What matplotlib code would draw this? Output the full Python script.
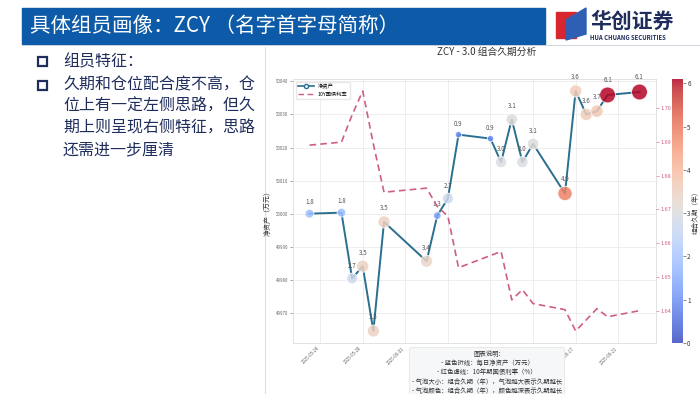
import matplotlib
matplotlib.use("Agg")
import matplotlib.dates as mdates
import matplotlib.pyplot as plt
import numpy as np
from matplotlib.lines import Line2D
from matplotlib.patches import Polygon, Rectangle

plt.rcParams["font.family"] = ["Noto Sans CJK SC", "DejaVu Sans"]
plt.rcParams["axes.unicode_minus"] = False

# data
dates = [
    "2025-05-23", "2025-05-26", "2025-05-27", "2025-05-28", "2025-05-29",
    "2025-05-30", "2025-06-03", "2025-06-04", "2025-06-05", "2025-06-06",
    "2025-06-09", "2025-06-10", "2025-06-11", "2025-06-12", "2025-06-13",
    "2025-06-16", "2025-06-17", "2025-06-18", "2025-06-19", "2025-06-20",
    "2025-06-23",
]
net_asset = [
    50000.0, 50000.3, 49980.4, 49984.1, 49964.5, 49997.5, 49985.6, 49999.4,
    50004.6, 50023.9, 50022.7, 50015.6, 50028.5, 50015.6, 50021.1, 50006.1,
    50037.1, 50030.0, 50031.0, 50035.9, 50036.8,
]
yield_10y = [
    1.6890, 1.6899, 1.6979, 1.7050, 1.6893, 1.6751, 1.6763, 1.6709, 1.6680,
    1.6528, 1.6564, 1.6576, 1.6433, 1.6463, 1.6422, 1.6404, 1.6341, 1.6374,
    1.6407, 1.6383, 1.6401,
]
duration = [
    1.8, 1.8, 2.7, 3.5, 3.5, 3.5, 3.4, 1.3, 2.7, 0.9, 0.9, 3.0, 3.1, 3.0,
    3.1, 4.9, 3.6, 3.6, 3.7, 6.1, 6.1,
]
bullet_1 = "组员特征："
bullet_2 = "久期和仓位配合度不高，仓\n位上有一定左侧思路，但久\n期上则呈现右侧特征，思路\n还需进一步厘清"
notes = (
    "图表说明:\n- 蓝色折线：每日净资产（万元）\n- 红色虚线：10年期国债利率（%）\n"
    "- 气泡大小：组合久期（年），气泡越大表示久期越长\n"
    "- 气泡颜色：组合久期（年），颜色越深表示久期越长"
)

W, H = 700, 394
fig = plt.figure(figsize=(7, 3.94), dpi=100)
navy = "#1f2d5c"

# slide background / header
bg = fig.add_axes([0, 0, 1, 1])
bg.set_xlim(0, W)
bg.set_ylim(H, 0)
bg.axis("off")
bg.add_patch(Rectangle((22, 8), 523, 36, color="#0d5aa8"))
bg.plot([22, W], [44.5, 44.5], color="#c8cdd8", lw=0.6)
bg.text(30, 26, "具体组员画像：ZCY （名字首字母简称）", color="white",
        fontsize=14.8, va="center", ha="left")
# logo
bg.add_patch(Polygon([[556, 12], [576, 12], [576, 38], [556, 38]], color="#d7262e"))
bg.add_patch(Polygon([[566, 20], [586, 8], [586, 34], [566, 40]], color="#2f5fb5"))
bg.text(590, 21, "华创证券", color=navy, fontsize=15, fontweight="bold", va="center")
bg.text(590, 37, "HUA CHUANG SECURITIES", color=navy, fontsize=4.3,
        fontweight="bold", va="center")
bg.plot([265, 265], [47, H], color="#dddddd", lw=0.8)

# left bullets
for yy in [62, 86]:
    bg.add_patch(Rectangle((38, yy - 5), 9, 9, fill=False, ec=navy, lw=1.6))
bg.text(63, 62, bullet_1, color=navy, fontsize=11.5, va="center")
bg.text(63, 76, bullet_2, color=navy, fontsize=11.5, va="top", linespacing=1.38)

# chart
fig.text(487 / W, 1 - 52 / H, "ZCY - 3.0 组合久期分析", ha="center", va="center",
         fontsize=7, color="#333333")

x = mdates.datestr2num(dates)
ax = fig.add_axes([293 / W, 1 - 343 / H, (656 - 293) / W, (343 - 79) / H])
ax.grid(True, color="#ebebeb", lw=0.6)
ax.set_axisbelow(True)
for s in ax.spines.values():
    s.set_color("#dddddd")
    s.set_linewidth(0.6)

line_c = "#2a6f8f"
ax.plot(x, net_asset, color=line_c, lw=1.4, zorder=2)
sizes = np.array(duration) * 21 + 2
sc = ax.scatter(x, net_asset, s=sizes, c=duration, cmap="coolwarm", vmin=0, vmax=6.1,
                alpha=0.85, edgecolors="white", linewidths=0.6, zorder=3)
for xi, yi, d, s in zip(x, net_asset, duration, sizes):
    ax.annotate(f"{d:.1f}", (xi, yi), xytext=(0, np.sqrt(s) / 2 + 2.5),
                textcoords="offset points", ha="center", va="bottom",
                fontsize=4.5, color="#555555", zorder=4)

ax.xaxis.set_major_locator(mdates.DayLocator(interval=4))
ax.xaxis.set_major_formatter(mdates.DateFormatter("%Y-%m-%d"))
plt.setp(ax.get_xticklabels(), rotation=45, ha="right")
ax.tick_params(axis="x", labelsize=3.2, colors="#666666", length=0, pad=2)
ax.tick_params(axis="y", labelsize=3.2, colors="#666666", length=2, width=0.4, pad=1.5)
ax.set_ylabel("净资产（万元）", fontsize=5, color="#333333", labelpad=2)

rate_c = "#cf5f80"
ax2 = ax.twinx()
ax2.plot(x, yield_10y, color=rate_c, lw=1.2, ls=(0, (4, 2.5)), zorder=2)
ax2.yaxis.set_major_formatter(plt.FormatStrFormatter("%.2f"))
ax2.tick_params(axis="y", labelsize=4, colors=rate_c, length=2, width=0.4, pad=1.5)
for s in ax2.spines.values():
    s.set_visible(False)

handles = [
    Line2D([], [], color=line_c, lw=1.2, marker="o", ms=3, mfc="white", mec=line_c),
    Line2D([], [], color=rate_c, lw=1.0, ls=(0, (4, 2.5))),
]
ax.legend(handles, ["净资产", "10Y国债利率"], loc="upper left", fontsize=3.8,
          frameon=True, framealpha=0.9, edgecolor="#e5e5e5", handlelength=3)

cax = fig.add_axes([672 / W, 1 - 343 / H, 11 / W, (343 - 79) / H])
cb = fig.colorbar(sc, cax=cax)
cb.solids.set_alpha(0.85)
cb.outline.set_visible(False)
cb.ax.tick_params(labelsize=4.5, colors="#333333", length=2, width=0.4, pad=1)
cb.set_label("组合久期（年）", fontsize=4.8, color="#333333", labelpad=1)

fig.text(487 / W, 1 - 350 / H, notes, ha="center", va="top", fontsize=4.6,
         color="#333333", linespacing=1.2,
         bbox=dict(boxstyle="round,pad=0.4", fc="#f6f7f9", ec="#e2e2e2", lw=0.5))

fig.savefig("out.png", dpi=100)
